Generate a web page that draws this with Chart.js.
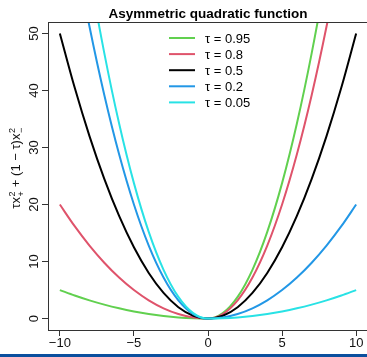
<!DOCTYPE html>
<html>
<head>
<meta charset="utf-8">
<script src="https://cdn.jsdelivr.net/npm/chart.js@4/dist/chart.umd.min.js"></script>
<style>
  html, body { margin: 0; padding: 0; background: #fff; overflow: hidden; }
  #wrap { position: relative; width: 367px; height: 357px; overflow: hidden; }
  canvas { position: absolute; left: 0; top: 0; }
</style>
</head>
<body>
<div id="wrap"><canvas id="quad" width="372" height="357"></canvas></div>
<script>
// x grid and curve values
var xValues = [-10, -9, -8, -7, -6, -5, -4, -3, -2, -1, 0, 1, 2, 3, 4, 5, 6, 7, 8, 9, 10];
var tau095 = [5, 4.05, 3.2, 2.45, 1.8, 1.25, 0.8, 0.45, 0.2, 0.05, 0, 0.95, 3.8, 8.55, 15.2, 23.75, 34.2, 46.55, 60.8, 76.95, 95];
var tau080 = [20, 16.2, 12.8, 9.8, 7.2, 5, 3.2, 1.8, 0.8, 0.2, 0, 0.8, 3.2, 7.2, 12.8, 20, 28.8, 39.2, 51.2, 64.8, 80];
var tau050 = [50, 40.5, 32, 24.5, 18, 12.5, 8, 4.5, 2, 0.5, 0, 0.5, 2, 4.5, 8, 12.5, 18, 24.5, 32, 40.5, 50];
var tau020 = [80, 64.8, 51.2, 39.2, 28.8, 20, 12.8, 7.2, 3.2, 0.8, 0, 0.2, 0.8, 1.8, 3.2, 5, 7.2, 9.8, 12.8, 16.2, 20];
var tau005 = [95, 76.95, 60.8, 46.55, 34.2, 23.75, 15.2, 8.55, 3.8, 0.95, 0, 0.05, 0.2, 0.45, 0.8, 1.25, 1.8, 2.45, 3.2, 4.05, 5];
var seriesLabels = ["τ = 0.95", "τ = 0.8", "τ = 0.5", "τ = 0.2", "τ = 0.05"];
var xTicks = [-10, -5, 0, 5, 10];
var yTicks = [0, 10, 20, 30, 40, 50];

var colors = ["#61D04F", "#DF536B", "#000000", "#2297E6", "#28E2E5"];
var allSeries = [tau095, tau080, tau050, tau020, tau005];
var FONT = "'Liberation Sans', Arial, Helvetica, sans-serif";

function pts(ys) {
    return xValues.map(function (x, i) { return {x: x, y: ys[i]}; });
}

var datasets = allSeries.map(function (ys, i) {
    return {
        label: seriesLabels[i],
        data: pts(ys),
        borderColor: colors[i],
        backgroundColor: colors[i],
        borderWidth: 2,
        pointRadius: 0,
        showLine: true,
        fill: false,
        cubicInterpolationMode: "monotone",
        order: allSeries.length - i
    };
});

function minus(v) {
    return String(v).replace("-", "\u2212");
}

var decor = {
    id: "decor",
    afterDraw: function (chart) {
        var ctx = chart.ctx;
        var a = chart.chartArea;
        var ys = chart.scales.y;
        var xs = chart.scales.x;
        ctx.save();

        // rest of the box
        ctx.strokeStyle = "#333";
        ctx.lineWidth = 1;
        ctx.beginPath();
        ctx.moveTo(a.left, a.top + 0.5);
        ctx.lineTo(a.right, a.top + 0.5);
        ctx.moveTo(a.right - 0.5, a.top);
        ctx.lineTo(a.right - 0.5, a.bottom);
        ctx.stroke();

        // title
        ctx.fillStyle = "#000";
        ctx.font = "bold 13.5px " + FONT;
        ctx.textAlign = "center";
        ctx.textBaseline = "alphabetic";
        ctx.fillText("Asymmetric quadratic function", (a.left + a.right) / 2, 17.5);

        // y tick labels, rotated like R
        ctx.font = "13px " + FONT;
        ctx.fillStyle = "#111";
        yTicks.forEach(function (v) {
            var py = ys.getPixelForValue(v);
            ctx.save();
            ctx.translate(38, py);
            ctx.rotate(-Math.PI / 2);
            ctx.textAlign = "center";
            ctx.fillText(String(v), 0, 0);
            ctx.restore();
        });

        // y axis title  tau x_+^2 + (1 - tau) x_-^2
        var main = "13px " + FONT, small = "9px " + FONT;
        var parts = [
            {t: "τx", f: main, dy: 0},
            {stack: ["2", "+"]},
            {t: " + (1 \u2212 τ)x", f: main, dy: 0},
            {stack: ["2", "\u2212"]}
        ];
        ctx.save();
        var w = 0;
        parts.forEach(function (p) {
            if (p.stack) {
                ctx.font = small;
                p.w = Math.max(ctx.measureText(p.stack[0]).width, ctx.measureText(p.stack[1]).width) + 1;
            } else {
                ctx.font = p.f;
                p.w = ctx.measureText(p.t).width;
            }
            w += p.w;
        });
        ctx.translate(20, (a.top + a.bottom) / 2 - 8);
        ctx.rotate(-Math.PI / 2);
        ctx.textAlign = "left";
        var cx = -w / 2;
        parts.forEach(function (p) {
            if (p.stack) {
                ctx.font = small;
                ctx.fillText(p.stack[0], cx + 0.5, -5.5);
                ctx.fillText(p.stack[1], cx + 0.5, 3.5);
            } else {
                ctx.font = p.f;
                ctx.fillText(p.t, cx, p.dy);
            }
            cx += p.w;
        });
        ctx.restore();

        // x axis title, mostly hidden under the bar
        ctx.font = "13px " + FONT;
        ctx.textAlign = "center";
        ctx.fillText("x", xs.getPixelForValue(0), 361);

        // legend
        ctx.textAlign = "left";
        ctx.textBaseline = "middle";
        chart.data.datasets.forEach(function (ds, i) {
            var ly = 38 + i * 16.1;
            ctx.strokeStyle = ds.borderColor;
            ctx.lineWidth = 2;
            ctx.beginPath();
            ctx.moveTo(169, ly);
            ctx.lineTo(195, ly);
            ctx.stroke();
            ctx.fillStyle = "#000";
            ctx.font = "13px " + FONT;
            ctx.fillText(ds.label, 205, ly + 1);
        });

        // blue strip at the bottom edge
        ctx.fillStyle = "#0B4F9E";
        ctx.fillRect(0, 354, chart.width, 3);
        ctx.restore();
    }
};

var quadChart = new Chart(document.getElementById("quad").getContext("2d"), {
    type: "scatter",
    data: {datasets: datasets},
    options: {
        responsive: false,
        animation: false,
        layout: {padding: {left: 0, right: 4, top: 22, bottom: 0}},
        plugins: {legend: {display: false}, tooltip: {enabled: false}},
        scales: {
            x: {
                type: "linear",
                min: -10.8,
                max: 10.8,
                afterBuildTicks: function (s) { s.ticks = xTicks.map(function (v) { return {value: v}; }); },
                afterFit: function (s) { s.height = 27; },
                grid: {drawOnChartArea: false, tickLength: 6, color: "#333", tickColor: "#333"},
                border: {display: true, color: "#333", width: 1},
                ticks: {
                    padding: 0,
                    color: "#111",
                    font: {family: FONT, size: 13},
                    callback: function (v) { return minus(v); }
                }
            },
            y: {
                type: "linear",
                min: -2,
                max: 52,
                afterBuildTicks: function (s) { s.ticks = yTicks.map(function (v) { return {value: v}; }); },
                afterFit: function (s) { s.width = 48; },
                grid: {drawOnChartArea: false, tickLength: 6, color: "#333", tickColor: "#333"},
                border: {display: true, color: "#333", width: 1},
                ticks: {display: false}
            }
        }
    },
    plugins: [decor]
});
</script>
</body>
</html>
